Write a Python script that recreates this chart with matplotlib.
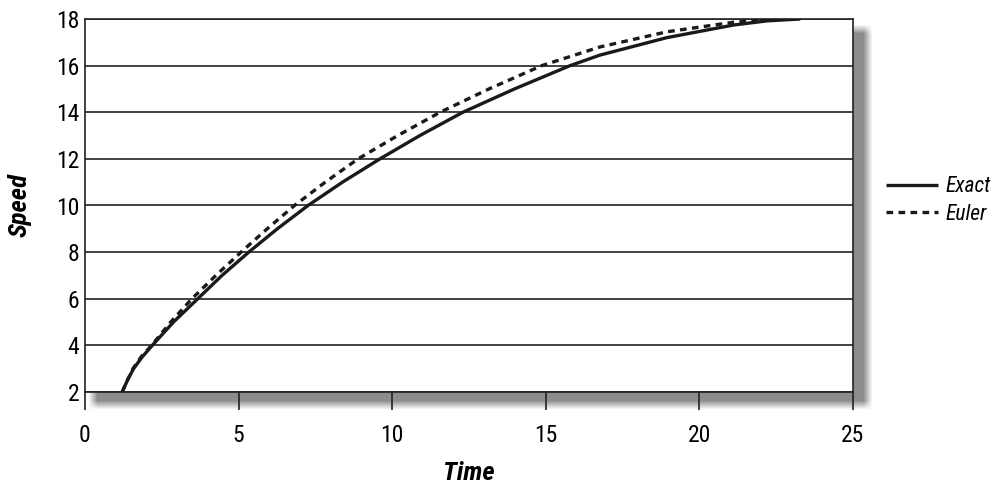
import matplotlib
matplotlib.use("Agg")
import matplotlib.pyplot as plt
import numpy as np

plt.rcParams['font.family'] = ['Liberation Sans Narrow', 'Roboto Condensed', 'Liberation Sans', 'DejaVu Sans']

# values
exact_t = [1.21, 1.38, 1.58, 1.86, 2.19, 2.88, 3.67, 4.46, 5.33, 6.26, 7.26, 8.38, 9.60,
           10.9, 12.3, 13.98, 15.79, 16.76, 18.94, 21.1, 22.2, 23.28]
exact_v = [2.0, 2.5, 3.0, 3.5, 4.0, 5.0, 6.0, 7.0, 8.0, 9.0, 10.0, 11.0, 12.0,
           13.0, 14.0, 15.0, 16.0, 16.45, 17.2, 17.74, 17.92, 18.0]
euler_t = [1.21, 1.38, 1.57, 1.84, 2.17, 2.79, 3.48, 4.26, 5.08, 5.93, 6.82, 7.82, 8.89,
           10.18, 11.56, 13.15, 14.87, 16.76, 18.94, 21.1, 22.2, 23.28]
euler_v = [2.0, 2.5, 3.02, 3.53, 4.0, 5.0, 6.0, 7.0, 8.0, 9.0, 10.0, 11.0, 12.0,
           13.0, 14.0, 15.0, 16.0, 16.8, 17.45, 17.86, 17.97, 18.0]
xticks = [0, 5, 10, 15, 20, 25]
yticks = [2, 4, 6, 8, 10, 12, 14, 16, 18]

W, H = 1000, 490
fig = plt.figure(figsize=(W / 100, H / 100), dpi=100)
fig.patch.set_facecolor('white')

# soft drop shadow behind the plot frame
xx = np.arange(W)[None, :]
yy = np.arange(H)[:, None]
def ramp(a, lo, hi, w):
    return np.clip((a - lo) / w, 0, 1) * np.clip((hi - a) / w, 0, 1)
shade = ramp(xx, 88, 872, 9) * ramp(yy, 24, 409, 9)
img = np.ones((H, W, 4))
img[..., :3] = 0.5
img[..., 3] = shade * 0.9
fig.figimage(img, xo=0, yo=0, origin='upper', zorder=-1)

ax = fig.add_axes([85 / W, 1 - 392 / H, 768 / W, 373 / H])
ax.set_facecolor('white')

ax.plot(exact_t, exact_v, color='#1a1a1a', lw=2.4, label='Exact', solid_capstyle='butt',
        solid_joinstyle='round', zorder=3)
ax.plot(euler_t, euler_v, color='#1a1a1a', lw=2.4, ls=(0, (2.0, 1.6)), label='Euler', zorder=3)

ax.set_xlim(0, 25)
ax.set_ylim(2, 18)
ax.set_xticks(xticks)
ax.set_yticks(yticks)
ax.grid(axis='y', color='#222222', lw=1.2)
ax.set_axisbelow(True)
for s in ax.spines.values():
    s.set_color('#222222')
    s.set_linewidth(1.2)
ax.tick_params(axis='x', direction='out', length=13, width=1.2, color='#222222',
               labelsize=17, pad=10)
ax.tick_params(axis='y', length=0, labelsize=17, pad=4)

ax.set_xlabel('Time', fontsize=19, fontweight='bold', style='italic', labelpad=10)
ax.set_ylabel('Speed', fontsize=19, fontweight='bold', style='italic', labelpad=18)

ax.legend(loc='center left', bbox_to_anchor=(1.043, 0.513), frameon=False,
          borderaxespad=0, borderpad=0,
          prop={'style': 'italic', 'size': 15.5}, handlelength=2.4,
          handletextpad=0.35, labelspacing=0.3)

fig.savefig('out.png', dpi=100)
